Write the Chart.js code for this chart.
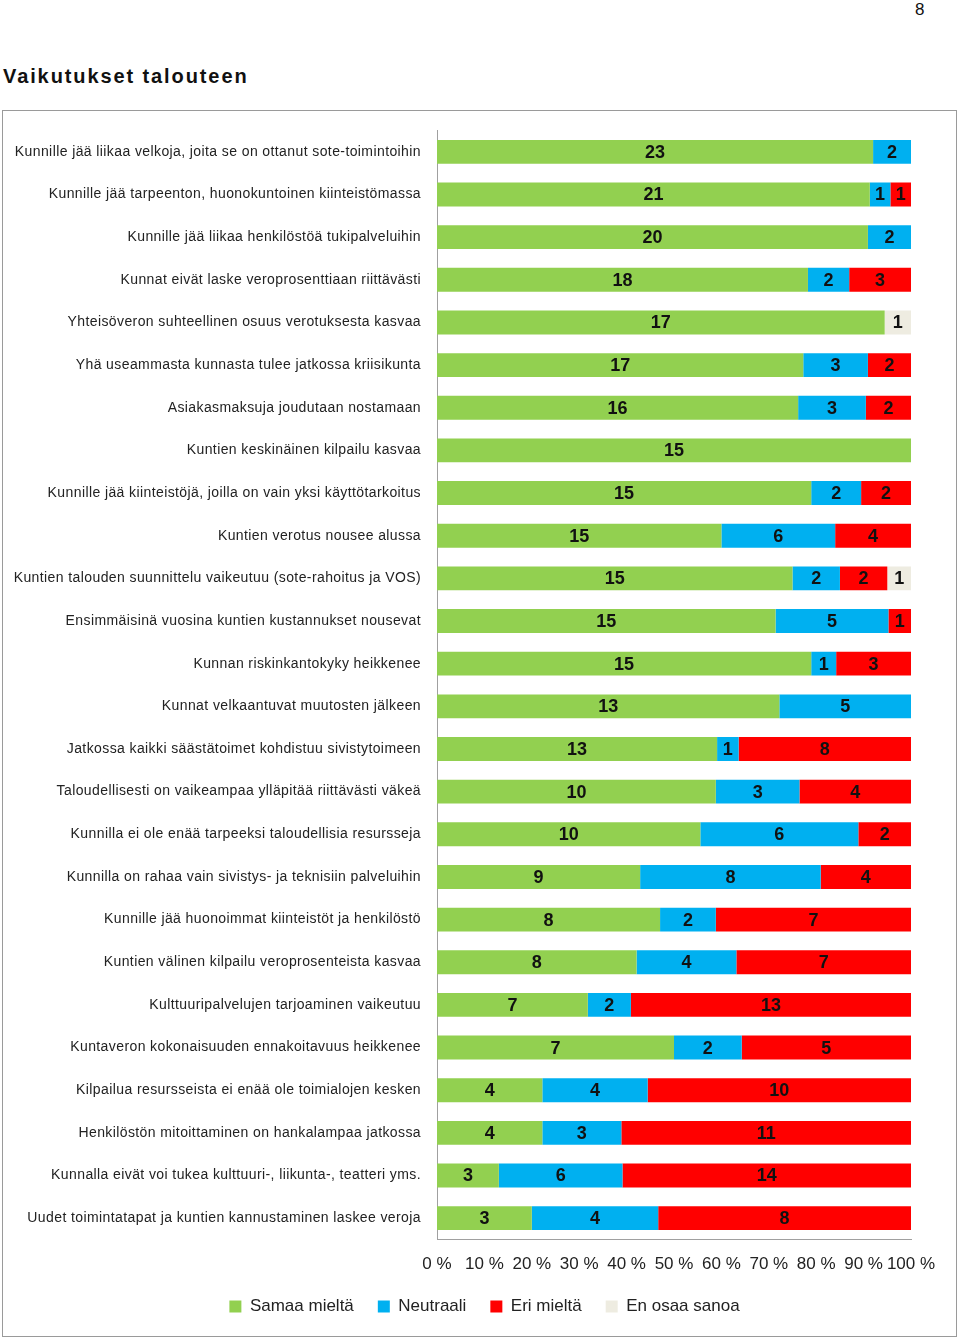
<!DOCTYPE html>
<html>
<head>
<meta charset="utf-8">
<script src="https://cdn.jsdelivr.net/npm/chart.js@4"></script>
<style>
  html, body { margin: 0; padding: 0; background: #fff; width: 960px; height: 1340px; overflow: hidden; position: relative; font-family: "Liberation Sans", Arial, sans-serif; }
  #pagenum { position: absolute; left: 915px; top: 0px; font-size: 17px; line-height: 20px; color: #111; }
  #title { position: absolute; left: 3px; top: 64px; font-size: 20px; line-height: 24px; font-weight: bold; letter-spacing: 1.9px; color: #111; }
  #box { position: absolute; left: 2px; top: 110px; width: 953px; height: 1225px; border: 1px solid #9a9a9a; }
  #wrap { position: absolute; left: 0px; top: 100px; width: 960px; height: 1240px; }
</style>
</head>
<body>
<div id="pagenum">8</div>
<div id="title">Vaikutukset talouteen</div>
<div id="box"></div>
<div id="wrap"><canvas id="c"></canvas></div>
<script>
const categories = [
  "Kunnille jää liikaa velkoja, joita se on ottanut sote-toimintoihin",
  "Kunnille jää tarpeenton, huonokuntoinen kiinteistömassa",
  "Kunnille jää liikaa henkilöstöä tukipalveluihin",
  "Kunnat eivät laske veroprosenttiaan riittävästi",
  "Yhteisöveron suhteellinen osuus verotuksesta kasvaa",
  "Yhä useammasta kunnasta tulee jatkossa kriisikunta",
  "Asiakasmaksuja joudutaan nostamaan",
  "Kuntien keskinäinen kilpailu kasvaa",
  "Kunnille jää kiinteistöjä, joilla on vain yksi käyttötarkoitus",
  "Kuntien verotus nousee alussa",
  "Kuntien talouden suunnittelu vaikeutuu (sote-rahoitus ja VOS)",
  "Ensimmäisinä vuosina kuntien kustannukset nousevat",
  "Kunnan riskinkantokyky heikkenee",
  "Kunnat velkaantuvat muutosten jälkeen",
  "Jatkossa kaikki säästätoimet kohdistuu sivistytoimeen",
  "Taloudellisesti on vaikeampaa ylläpitää riittävästi väkeä",
  "Kunnilla ei ole enää tarpeeksi taloudellisia resursseja",
  "Kunnilla on rahaa vain sivistys- ja teknisiin palveluihin",
  "Kunnille jää huonoimmat kiinteistöt ja henkilöstö",
  "Kuntien välinen kilpailu veroprosenteista kasvaa",
  "Kulttuuripalvelujen tarjoaminen vaikeutuu",
  "Kuntaveron kokonaisuuden ennakoitavuus heikkenee",
  "Kilpailua resursseista ei enää ole toimialojen kesken",
  "Henkilöstön mitoittaminen on hankalampaa jatkossa",
  "Kunnalla eivät voi tukea kulttuuri-, liikunta-, teatteri yms.",
  "Uudet toimintatapat ja kuntien kannustaminen laskee veroja"
];
const seriesNames = ["Samaa mieltä", "Neutraali", "Eri mieltä", "En osaa sanoa"];
const samaaMielta = [23,21,20,18,17,17,16,15,15,15,15,15,15,13,13,10,10,9,8,8,7,7,4,4,3,3];
const neutraali   = [2,1,2,2,0,3,3,0,2,6,2,5,1,5,1,3,6,8,2,4,2,2,4,3,6,4];
const eriMielta   = [0,1,0,3,0,2,2,0,2,4,2,1,3,0,8,4,2,4,7,7,13,5,10,11,14,8];
const enOsaaSanoa = [0,0,0,0,1,0,0,0,0,0,1,0,0,0,0,0,0,0,0,0,0,0,0,0,0,0];
const xTicks = [0,10,20,30,40,50,60,70,80,90,100];
const colors = ["#92D050", "#00B0F0", "#FF0000", "#EEECE1"];

const counts = [samaaMielta, neutraali, eriMielta, enOsaaSanoa];
const totals = categories.map((_, i) => counts.reduce((s, arr) => s + arr[i], 0));
const datasets = counts.map((arr, k) => ({
  label: seriesNames[k],
  data: arr.map((v, i) => v / totals[i] * 100),
  counts: arr,
  backgroundColor: colors[k],
  borderWidth: 0,
  barPercentage: 0.56,
  categoryPercentage: 1.0
}));

const FONT = '"Liberation Sans", Arial, sans-serif';

const valueLabels = {
  id: 'valueLabels',
  afterDatasetsDraw(chart) {
    const ctx = chart.ctx;
    ctx.save();
    ctx.font = 'bold 18px ' + FONT;
    ctx.fillStyle = '#111';
    ctx.textAlign = 'center';
    ctx.textBaseline = 'middle';
    chart.data.datasets.forEach((ds, di) => {
      const meta = chart.getDatasetMeta(di);
      meta.data.forEach((el, i) => {
        const c = ds.counts[i];
        if (!c) return;
        const p = el.getProps(['x', 'y', 'base'], true);
        ctx.fillText(String(c), (p.x + p.base) / 2, p.y + 1);
      });
    });
    ctx.restore();
  }
};

// shift legend to the reference's horizontal centre and give category labels their wide spacing
const layoutTweaks = {
  id: 'layoutTweaks',
  afterLayout(chart) {
    const lg = chart.legend;
    if (lg) { lg.left += 29; lg.right += 29; }
    const ys = chart.scales.y;
    if (ys && !ys._spaced) {
      const orig = ys.drawLabels.bind(ys);
      ys.drawLabels = function (area) {
        const ctx = chart.ctx;
        ctx.save();
        ctx.letterSpacing = '0.4px';
        orig(area);
        ctx.restore();
      };
      ys._spaced = true;
    }
  }
};

new Chart(document.getElementById('c'), {
  type: 'bar',
  data: { labels: categories, datasets: datasets },
  plugins: [valueLabels, layoutTweaks],
  options: {
    indexAxis: 'y',
    responsive: true,
    maintainAspectRatio: false,
    animation: false,
    events: [],
    layout: { padding: { left: 0, right: 49, top: 30.5, bottom: 15 } },
    scales: {
      x: {
        stacked: true,
        min: 0, max: 100,
        afterBuildTicks(scale) { scale.ticks = xTicks.map(v => ({ value: v })); },
        afterFit(scale) { scale.height = 34.5; },
        grid: { display: false, drawTicks: false },
        border: { display: true, color: '#a0a0a0', width: 1 },
        ticks: {
          padding: 15,
          color: '#222',
          font: { family: FONT, size: 17 },
          maxRotation: 0,
          autoSkip: false,
          callback: v => v + ' %'
        }
      },
      y: {
        stacked: true,
        afterFit(scale) { scale.width = 437; },
        grid: { display: false, drawTicks: false },
        border: { display: true, color: '#a0a0a0', width: 1 },
        ticks: {
          padding: 16,
          color: '#222',
          autoSkip: false,
          font: { family: FONT, size: 14 }
        }
      }
    },
    plugins: {
      legend: {
        position: 'bottom',
        labels: {
          boxWidth: 12,
          boxHeight: 12,
          padding: 24,
          color: '#222',
          font: { family: FONT, size: 17 }
        }
      },
      tooltip: { enabled: false },
      title: { display: false }
    }
  }
});
</script>
</body>
</html>
